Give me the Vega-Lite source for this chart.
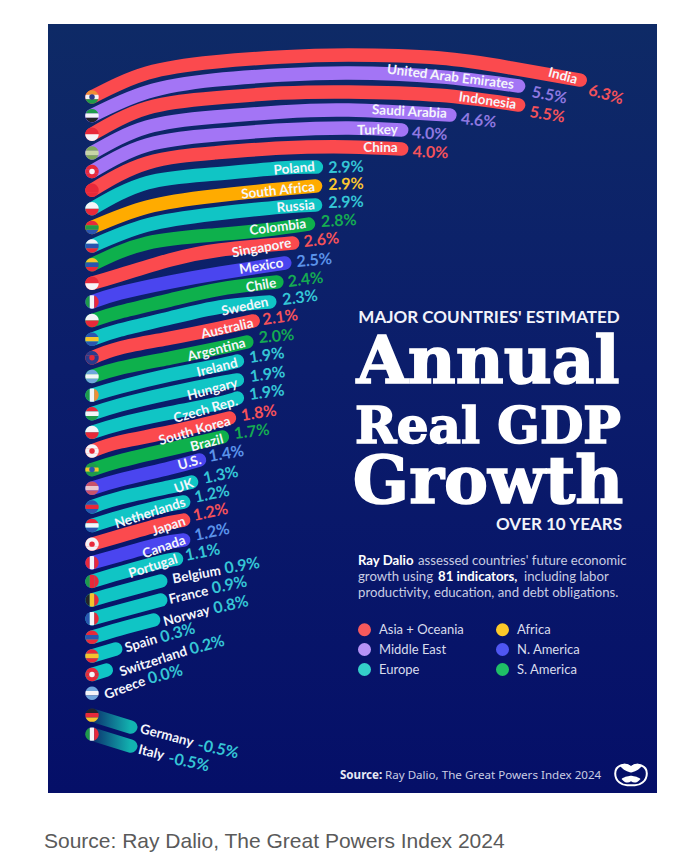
{
"$schema":"https://vega.github.io/schema/vega-lite/v6.json",
"width":677,"height":856,"padding":0,"autosize":{"type":"none"},"background":"#ffffff",
"config":{"view":{"stroke":null}},
"datasets":{
"panel":[{"along":-0.557,"along2":7.152,"row":-3.918,"row2":37.36}],
"curves":[
{"country":"India","region":"Asia + Oceania","along":0,"row":0},{"country":"India","region":"Asia + Oceania","along":0.7,"row":-1.29},{"country":"India","region":"Asia + Oceania","along":1.55,"row":-1.88},{"country":"India","region":"Asia + Oceania","along":2.4,"row":-2.15},{"country":"India","region":"Asia + Oceania","along":3.25,"row":-2.25},{"country":"India","region":"Asia + Oceania","along":4.4,"row":-2.09},{"country":"India","region":"Asia + Oceania","along":5.3,"row":-1.56},{"country":"India","region":"Asia + Oceania","along":6.18,"row":-0.91},
{"country":"United Arab Emirates","region":"Middle East","along":0,"row":1},{"country":"United Arab Emirates","region":"Middle East","along":0.7,"row":-0.27},{"country":"United Arab Emirates","region":"Middle East","along":1.55,"row":-0.91},{"country":"United Arab Emirates","region":"Middle East","along":2.4,"row":-1.18},{"country":"United Arab Emirates","region":"Middle East","along":3.25,"row":-1.29},{"country":"United Arab Emirates","region":"Middle East","along":4.4,"row":-1.09},{"country":"United Arab Emirates","region":"Middle East","along":5.4,"row":-0.59},
{"country":"Indonesia","region":"Asia + Oceania","along":0,"row":2},{"country":"Indonesia","region":"Asia + Oceania","along":0.7,"row":0.59},{"country":"Indonesia","region":"Asia + Oceania","along":1.55,"row":0.05},{"country":"Indonesia","region":"Asia + Oceania","along":2.4,"row":-0.21},{"country":"Indonesia","region":"Asia + Oceania","along":3.25,"row":-0.27},{"country":"Indonesia","region":"Asia + Oceania","along":4.4,"row":-0.09},{"country":"Indonesia","region":"Asia + Oceania","along":5.4,"row":0.43},
{"country":"Saudi Arabia","region":"Middle East","along":0,"row":3},{"country":"Saudi Arabia","region":"Middle East","along":0.7,"row":1.61},{"country":"Saudi Arabia","region":"Middle East","along":1.55,"row":1.07},{"country":"Saudi Arabia","region":"Middle East","along":2.4,"row":0.8},{"country":"Saudi Arabia","region":"Middle East","along":3.25,"row":0.7},{"country":"Saudi Arabia","region":"Middle East","along":4.53,"row":0.97},
{"country":"Turkey","region":"Middle East","along":0,"row":4},{"country":"Turkey","region":"Middle East","along":0.7,"row":2.58},{"country":"Turkey","region":"Middle East","along":1.55,"row":2.04},{"country":"Turkey","region":"Middle East","along":2.4,"row":1.77},{"country":"Turkey","region":"Middle East","along":3.25,"row":1.66},{"country":"Turkey","region":"Middle East","along":3.92,"row":1.77},
{"country":"China","region":"Asia + Oceania","along":0,"row":5},{"country":"China","region":"Asia + Oceania","along":0.7,"row":3.54},{"country":"China","region":"Asia + Oceania","along":1.55,"row":3.0},{"country":"China","region":"Asia + Oceania","along":2.4,"row":2.74},{"country":"China","region":"Asia + Oceania","along":3.25,"row":2.68},{"country":"China","region":"Asia + Oceania","along":3.92,"row":2.79},
{"country":"Poland","region":"Europe","along":0,"row":6},{"country":"Poland","region":"Europe","along":0.7,"row":4.6},{"country":"Poland","region":"Europe","along":1.55,"row":4.13},{"country":"Poland","region":"Europe","along":2.4,"row":3.81},{"country":"Poland","region":"Europe","along":2.84,"row":3.76},
{"country":"South Africa","region":"Africa","along":0,"row":7},{"country":"South Africa","region":"Africa","along":0.7,"row":5.9},{"country":"South Africa","region":"Africa","along":1.55,"row":5.31},{"country":"South Africa","region":"Africa","along":2.4,"row":4.94},{"country":"South Africa","region":"Africa","along":2.83,"row":4.78},
{"country":"Russia","region":"Europe","along":0,"row":8},{"country":"Russia","region":"Europe","along":0.7,"row":6.87},{"country":"Russia","region":"Europe","along":1.55,"row":6.28},{"country":"Russia","region":"Europe","along":2.4,"row":5.9},{"country":"Russia","region":"Europe","along":2.83,"row":5.8},
{"country":"Colombia","region":"S. America","along":0,"row":9},{"country":"Colombia","region":"S. America","along":0.7,"row":7.84},{"country":"Colombia","region":"S. America","along":1.55,"row":7.4},{"country":"Colombia","region":"S. America","along":2.19,"row":7.14},{"country":"Colombia","region":"S. America","along":2.74,"row":6.82},
{"country":"Singapore","region":"Asia + Oceania","along":0,"row":10},{"country":"Singapore","region":"Asia + Oceania","along":0.354,"row":9.55},{"country":"Singapore","region":"Asia + Oceania","along":0.987,"row":8.75},{"country":"Singapore","region":"Asia + Oceania","along":1.62,"row":8.21},{"country":"Singapore","region":"Asia + Oceania","along":2.54,"row":7.84},
{"country":"Mexico","region":"N. America","along":0,"row":11},{"country":"Mexico","region":"N. America","along":0.354,"row":10.52},{"country":"Mexico","region":"N. America","along":0.987,"row":9.93},{"country":"Mexico","region":"N. America","along":1.62,"row":9.45},{"country":"Mexico","region":"N. America","along":2.44,"row":8.91},
{"country":"Chile","region":"S. America","along":0,"row":12},{"country":"Chile","region":"S. America","along":0.354,"row":11.54},{"country":"Chile","region":"S. America","along":0.987,"row":10.9},{"country":"Chile","region":"S. America","along":1.62,"row":10.31},{"country":"Chile","region":"S. America","along":2.34,"row":9.93},
{"country":"Sweden","region":"Europe","along":0,"row":13},{"country":"Sweden","region":"Europe","along":0.354,"row":12.51},{"country":"Sweden","region":"Europe","along":0.987,"row":11.86},{"country":"Sweden","region":"Europe","along":1.62,"row":11.27},{"country":"Sweden","region":"Europe","along":2.25,"row":11.0},
{"country":"Australia","region":"Asia + Oceania","along":0,"row":14},{"country":"Australia","region":"Asia + Oceania","along":0.354,"row":13.47},{"country":"Australia","region":"Asia + Oceania","along":0.987,"row":12.94},{"country":"Australia","region":"Asia + Oceania","along":1.62,"row":12.4},{"country":"Australia","region":"Asia + Oceania","along":2.04,"row":12.02},
{"country":"Argentina","region":"S. America","along":0,"row":15},{"country":"Argentina","region":"S. America","along":0.354,"row":14.55},{"country":"Argentina","region":"S. America","along":0.987,"row":14.01},{"country":"Argentina","region":"S. America","along":1.62,"row":13.47},{"country":"Argentina","region":"S. America","along":1.96,"row":13.15},
{"country":"Ireland","region":"Europe","along":0,"row":16},{"country":"Ireland","region":"Europe","along":0.354,"row":15.57},{"country":"Ireland","region":"Europe","along":0.987,"row":14.92},{"country":"Ireland","region":"Europe","along":1.62,"row":14.39},{"country":"Ireland","region":"Europe","along":1.84,"row":14.17},
{"country":"Hungary","region":"Europe","along":0,"row":17},{"country":"Hungary","region":"Europe","along":0.354,"row":16.53},{"country":"Hungary","region":"Europe","along":0.987,"row":15.89},{"country":"Hungary","region":"Europe","along":1.62,"row":15.35},{"country":"Hungary","region":"Europe","along":1.84,"row":15.19},
{"country":"Czech Rep.","region":"Europe","along":0,"row":18},{"country":"Czech Rep.","region":"Europe","along":0.354,"row":17.55},{"country":"Czech Rep.","region":"Europe","along":0.987,"row":16.96},{"country":"Czech Rep.","region":"Europe","along":1.62,"row":16.43},{"country":"Czech Rep.","region":"Europe","along":1.84,"row":16.16},
{"country":"South Korea","region":"Asia + Oceania","along":0,"row":19},{"country":"South Korea","region":"Asia + Oceania","along":0.354,"row":18.52},{"country":"South Korea","region":"Asia + Oceania","along":0.987,"row":17.98},{"country":"South Korea","region":"Asia + Oceania","along":1.74,"row":17.23},
{"country":"Brazil","region":"S. America","along":0,"row":20},{"country":"Brazil","region":"S. America","along":0.354,"row":19.54},{"country":"Brazil","region":"S. America","along":0.987,"row":18.9},{"country":"Brazil","region":"S. America","along":1.65,"row":18.25},
{"country":"U.S.","region":"N. America","along":0,"row":21},{"country":"U.S.","region":"N. America","along":0.354,"row":20.56},{"country":"U.S.","region":"N. America","along":0.987,"row":19.91},{"country":"U.S.","region":"N. America","along":1.36,"row":19.48},
{"country":"UK","region":"Europe","along":0,"row":22},{"country":"UK","region":"Europe","along":0.354,"row":21.52},{"country":"UK","region":"Europe","along":0.987,"row":20.93},{"country":"UK","region":"Europe","along":1.26,"row":20.67},
{"country":"Netherlands","region":"Europe","along":0,"row":23},{"country":"Netherlands","region":"Europe","along":0.354,"row":22.54},{"country":"Netherlands","region":"Europe","along":0.85,"row":22.0},{"country":"Netherlands","region":"Europe","along":1.16,"row":21.74},
{"country":"Japan","region":"Asia + Oceania","along":0,"row":24},{"country":"Japan","region":"Asia + Oceania","along":0.354,"row":23.56},{"country":"Japan","region":"Asia + Oceania","along":0.85,"row":22.97},{"country":"Japan","region":"Asia + Oceania","along":1.16,"row":22.71},
{"country":"Canada","region":"N. America","along":0,"row":25},{"country":"Canada","region":"N. America","along":0.354,"row":24.58},{"country":"Canada","region":"N. America","along":0.85,"row":24.0},{"country":"Canada","region":"N. America","along":1.16,"row":23.78},
{"country":"Portugal","region":"Europe","along":0,"row":26},{"country":"Portugal","region":"Europe","along":0.354,"row":25.55},{"country":"Portugal","region":"Europe","along":0.85,"row":24.98},{"country":"Portugal","region":"Europe","along":1.07,"row":24.8},
{"country":"Belgium","region":"Europe","along":0,"row":27},{"country":"Belgium","region":"Europe","along":0.354,"row":26.57},{"country":"Belgium","region":"Europe","along":0.87,"row":25.98},
{"country":"France","region":"Europe","along":0,"row":28},{"country":"France","region":"Europe","along":0.354,"row":27.59},{"country":"France","region":"Europe","along":0.87,"row":27.0},
{"country":"Norway","region":"Europe","along":0,"row":29},{"country":"Norway","region":"Europe","along":0.354,"row":28.55},{"country":"Norway","region":"Europe","along":0.78,"row":28.07},
{"country":"Spain","region":"Europe","along":0,"row":30},{"country":"Spain","region":"Europe","along":0.3,"row":29.63},
{"country":"Switzerland","region":"Europe","along":0,"row":31},{"country":"Switzerland","region":"Europe","along":0.18,"row":30.76}
],
"falling":[
{"country":"Germany","along":0,"row":33.18},{"country":"Germany","along":0.49,"row":33.82},
{"country":"Italy","along":0,"row":34.2},{"country":"Italy","along":0.49,"row":34.84}
],
"flags":[
{"country":"India","along":0,"row":0,"stripes":"h","a":"orange","b":"white","c":"green","mark":"navy"},
{"country":"United Arab Emirates","along":0,"row":1,"stripes":"h","a":"green","b":"white","c":"black"},
{"country":"Indonesia","along":0,"row":2,"stripes":"two","a":"red","b":"red","c":"white"},
{"country":"Saudi Arabia","along":0,"row":3,"stripes":"h","a":"olive","b":"pale","c":"olive"},
{"country":"Turkey","along":0,"row":4,"stripes":"h","a":"red","b":"red","c":"red","mark":"white"},
{"country":"China","along":0,"row":5,"stripes":"h","a":"red","b":"red","c":"red"},
{"country":"Poland","along":0,"row":6,"stripes":"two","a":"white","b":"white","c":"red"},
{"country":"South Africa","along":0,"row":7,"stripes":"h","a":"red","b":"green","c":"blue"},
{"country":"Russia","along":0,"row":8,"stripes":"h","a":"white","b":"blue","c":"red"},
{"country":"Colombia","along":0,"row":9,"stripes":"h","a":"yellow","b":"blue","c":"red"},
{"country":"Singapore","along":0,"row":10,"stripes":"two","a":"red","b":"red","c":"white"},
{"country":"Mexico","along":0,"row":11,"stripes":"v","a":"green","b":"white","c":"red"},
{"country":"Chile","along":0,"row":12,"stripes":"two","a":"white","b":"white","c":"red"},
{"country":"Sweden","along":0,"row":13,"stripes":"h","a":"blue","b":"yellow","c":"blue"},
{"country":"Australia","along":0,"row":14,"stripes":"h","a":"navy","b":"navy","c":"navy","mark":"red"},
{"country":"Argentina","along":0,"row":15,"stripes":"h","a":"sky","b":"white","c":"sky"},
{"country":"Ireland","along":0,"row":16,"stripes":"v","a":"green","b":"white","c":"orange"},
{"country":"Hungary","along":0,"row":17,"stripes":"h","a":"red","b":"white","c":"green"},
{"country":"Czech Rep.","along":0,"row":18,"stripes":"two","a":"white","b":"white","c":"red"},
{"country":"South Korea","along":0,"row":19,"stripes":"h","a":"white","b":"white","c":"white","mark":"red"},
{"country":"Brazil","along":0,"row":20,"stripes":"h","a":"green","b":"yellow","c":"green","mark":"blue"},
{"country":"U.S.","along":0,"row":21,"stripes":"h","a":"rose","b":"pink","c":"rose"},
{"country":"UK","along":0,"row":22,"stripes":"h","a":"blue","b":"red","c":"blue"},
{"country":"Netherlands","along":0,"row":23,"stripes":"h","a":"red","b":"white","c":"blue"},
{"country":"Japan","along":0,"row":24,"stripes":"h","a":"white","b":"white","c":"white","mark":"red"},
{"country":"Canada","along":0,"row":25,"stripes":"v","a":"red","b":"white","c":"red"},
{"country":"Portugal","along":0,"row":26,"stripes":"v","a":"green","b":"red","c":"red"},
{"country":"Belgium","along":0,"row":27,"stripes":"v","a":"black","b":"yellow","c":"red"},
{"country":"France","along":0,"row":28,"stripes":"v","a":"blue","b":"white","c":"red"},
{"country":"Norway","along":0,"row":29,"stripes":"h","a":"red","b":"blue","c":"red"},
{"country":"Spain","along":0,"row":30,"stripes":"h","a":"red","b":"yellow","c":"red"},
{"country":"Switzerland","along":0,"row":31,"stripes":"h","a":"red","b":"red","c":"red","mark":"white"},
{"country":"Greece","along":0,"row":32,"stripes":"h","a":"sky","b":"white","c":"sky"},
{"country":"Germany","along":0,"row":33.18,"stripes":"h","a":"black","b":"red","c":"yellow"},
{"country":"Italy","along":0,"row":34.2,"stripes":"v","a":"green","b":"white","c":"red"}
],
"names":[
{"country":"India","along":6.14,"row":-0.91,"tilt":15},
{"country":"United Arab Emirates","along":5.34,"row":-0.64,"tilt":7},
{"country":"Indonesia","along":5.37,"row":0.43,"tilt":8},
{"country":"Saudi Arabia","along":4.49,"row":0.91,"tilt":3},
{"country":"Turkey","along":3.87,"row":1.77,"tilt":-1},
{"country":"China","along":3.87,"row":2.74,"tilt":0},
{"country":"Poland","along":2.82,"row":3.76,"tilt":-5},
{"country":"South Africa","along":2.82,"row":4.83,"tilt":-6},
{"country":"Russia","along":2.82,"row":5.8,"tilt":-5},
{"country":"Colombia","along":2.71,"row":6.82,"tilt":-7},
{"country":"Singapore","along":2.52,"row":7.84,"tilt":-10},
{"country":"Mexico","along":2.42,"row":8.91,"tilt":-9},
{"country":"Chile","along":2.33,"row":9.98,"tilt":-10},
{"country":"Sweden","along":2.23,"row":11.0,"tilt":-12},
{"country":"Australia","along":2.04,"row":12.13,"tilt":-13},
{"country":"Argentina","along":1.94,"row":13.2,"tilt":-14},
{"country":"Ireland","along":1.84,"row":14.28,"tilt":-14},
{"country":"Hungary","along":1.84,"row":15.35,"tilt":-15},
{"country":"Czech Rep.","along":1.84,"row":16.32,"tilt":-16},
{"country":"South Korea","along":1.75,"row":17.39,"tilt":-16},
{"country":"Brazil","along":1.66,"row":18.36,"tilt":-15},
{"country":"U.S.","along":1.38,"row":19.48,"tilt":-15},
{"country":"UK","along":1.28,"row":20.72,"tilt":-20},
{"country":"Netherlands","along":1.18,"row":21.74,"tilt":-18},
{"country":"Japan","along":1.18,"row":22.76,"tilt":-19},
{"country":"Canada","along":1.18,"row":23.78,"tilt":-19},
{"country":"Portugal","along":1.08,"row":24.79,"tilt":-18},
{"country":"Belgium","along":1.63,"row":25.44,"tilt":-10},
{"country":"France","along":1.47,"row":26.52,"tilt":-13},
{"country":"Norway","along":1.49,"row":27.54,"tilt":-15},
{"country":"Spain","along":0.82,"row":29.09,"tilt":-17},
{"country":"Switzerland","along":1.2,"row":29.74,"tilt":-18},
{"country":"Greece","along":0.67,"row":31.35,"tilt":-20},
{"country":"Germany","along":1.28,"row":34.67,"tilt":15},
{"country":"Italy","along":0.91,"row":35.37,"tilt":14}
],
"growth":[
{"country":"India","region":"Asia + Oceania","growth":"6.3%","along":6.29,"row":-0.38,"tilt":16},
{"country":"United Arab Emirates","region":"Middle East","growth":"5.5%","along":5.57,"row":-0.27,"tilt":11},
{"country":"Indonesia","region":"Asia + Oceania","growth":"5.5%","along":5.54,"row":0.81,"tilt":9},
{"country":"Saudi Arabia","region":"Middle East","growth":"4.6%","along":4.67,"row":1.18,"tilt":6},
{"country":"Turkey","region":"Middle East","growth":"4.0%","along":4.05,"row":1.93,"tilt":3},
{"country":"China","region":"Asia + Oceania","growth":"4.0%","along":4.06,"row":2.95,"tilt":2},
{"country":"Poland","region":"Europe","growth":"2.9%","along":2.99,"row":3.81,"tilt":-2},
{"country":"South Africa","region":"Africa","growth":"2.9%","along":2.99,"row":4.72,"tilt":-2},
{"country":"Russia","region":"Europe","growth":"2.9%","along":2.99,"row":5.69,"tilt":-2},
{"country":"Colombia","region":"S. America","growth":"2.8%","along":2.9,"row":6.71,"tilt":-3},
{"country":"Singapore","region":"Asia + Oceania","growth":"2.6%","along":2.68,"row":7.78,"tilt":-6},
{"country":"Mexico","region":"N. America","growth":"2.5%","along":2.59,"row":8.86,"tilt":-5},
{"country":"Chile","region":"S. America","growth":"2.4%","along":2.48,"row":9.93,"tilt":-7},
{"country":"Sweden","region":"Europe","growth":"2.3%","along":2.41,"row":10.9,"tilt":-7},
{"country":"Australia","region":"Asia + Oceania","growth":"2.1%","along":2.16,"row":11.97,"tilt":-8},
{"country":"Argentina","region":"S. America","growth":"2.0%","along":2.11,"row":12.94,"tilt":-5},
{"country":"Ireland","region":"Europe","growth":"1.9%","along":1.99,"row":14.01,"tilt":-8},
{"country":"Hungary","region":"Europe","growth":"1.9%","along":2.0,"row":15.03,"tilt":-8},
{"country":"Czech Rep.","region":"Europe","growth":"1.9%","along":1.99,"row":16.0,"tilt":-8},
{"country":"South Korea","region":"Asia + Oceania","growth":"1.8%","along":1.89,"row":17.12,"tilt":-9},
{"country":"Brazil","region":"S. America","growth":"1.7%","along":1.8,"row":18.09,"tilt":-7},
{"country":"U.S.","region":"N. America","growth":"1.4%","along":1.48,"row":19.32,"tilt":-10},
{"country":"UK","region":"Europe","growth":"1.3%","along":1.41,"row":20.5,"tilt":-12},
{"country":"Netherlands","region":"Europe","growth":"1.2%","along":1.3,"row":21.52,"tilt":-12},
{"country":"Japan","region":"Asia + Oceania","growth":"1.2%","along":1.28,"row":22.49,"tilt":-12},
{"country":"Canada","region":"N. America","growth":"1.2%","along":1.3,"row":23.56,"tilt":-12},
{"country":"Portugal","region":"Europe","growth":"1.1%","along":1.18,"row":24.63,"tilt":-11},
{"country":"Belgium","region":"Europe","growth":"0.9%","along":1.68,"row":25.33,"tilt":-10},
{"country":"France","region":"Europe","growth":"0.9%","along":1.52,"row":26.4,"tilt":-12},
{"country":"Norway","region":"Europe","growth":"0.8%","along":1.54,"row":27.48,"tilt":-13},
{"country":"Spain","region":"Europe","growth":"0.3%","along":0.87,"row":29.03,"tilt":-16},
{"country":"Switzerland","region":"Europe","growth":"0.2%","along":1.24,"row":29.67,"tilt":-15},
{"country":"Greece","region":"Europe","growth":"0.0%","along":0.71,"row":31.25,"tilt":-15},
{"country":"Germany","region":"Europe","growth":"-0.5%","along":1.34,"row":34.78,"tilt":12},
{"country":"Italy","region":"Europe","growth":"-0.5%","along":0.97,"row":35.48,"tilt":12}
],
"notes":[
{"part":"kicker","label":"MAJOR COUNTRIES' ESTIMATED","along":5.025,"row":11.87},
{"part":"years","label":"OVER 10 YEARS","along":6.709,"row":22.95},
{"part":"big","label":"Annual","along":5.013,"row":15.35},
{"part":"mid","label":"Real GDP","along":5.013,"row":18.57},
{"part":"big","label":"Growth","along":5.013,"row":21.79},
{"part":"bodybold","label":"Ray Dalio","along":3.367,"row":24.91},
{"part":"body","label":"assessed countries' future economic","along":4.127,"row":24.91},
{"part":"body","label":"growth using","along":3.367,"row":25.76},
{"part":"bodybold","label":"81 indicators,","along":4.38,"row":25.76},
{"part":"body","label":"including labor","along":5.468,"row":25.76},
{"part":"body","label":"productivity, education, and debt obligations.","along":3.367,"row":26.62},
{"part":"footbold","label":"Source:","along":3.139,"row":36.45},
{"part":"foot","label":"Ray Dalio, The Great Powers Index 2024","along":3.709,"row":36.45},
{"part":"caption","label":"Source: Ray Dalio, The Great Powers Index 2024","along":-0.608,"row":39.99}
],
"logo":[{"along":6.823,"row":36.39}]
},
"encoding":{
"x":{"field":"along","type":"quantitative","axis":null,"scale":{"domain":[-1.1646,7.4051],"nice":false,"zero":false}},
"y":{"field":"row","type":"quantitative","axis":null,"scale":{"domain":[-5.207,40.74],"nice":false,"zero":false,"reverse":true}}
},
"layer":[
{"data":{"name":"panel"},
 "mark":{"type":"rect","color":{"gradient":"linear","x1":0,"y1":0,"x2":0,"y2":1,"stops":[{"offset":0,"color":"#0e2a66"},{"offset":0.45,"color":"#0b1d6b"},{"offset":1,"color":"#050f68"}]}},
 "encoding":{"x2":{"field":"along2"},"y2":{"field":"row2"}}},
{"data":{"name":"curves"},
 "mark":{"type":"line","interpolate":"natural","strokeWidth":13.5,"strokeCap":"round"},
 "encoding":{"detail":{"field":"country"},
  "color":{"field":"region","type":"nominal","legend":null,"scale":{"domain":["Asia + Oceania","Africa","Middle East","N. America","Europe","S. America"],"range":["#fb4a4e","#ffab00","#a375f5","#4a45ef","#10c5c5","#0eb04c"]}}}},
{"data":{"name":"falling"},
 "mark":{"type":"line","strokeWidth":13.5,"strokeCap":"round","stroke":{"gradient":"linear","x1":0,"y1":0,"x2":1,"y2":0,"stops":[{"offset":0,"color":"#0b2f6e"},{"offset":1,"color":"#12b3b0"}]}},
 "encoding":{"detail":{"field":"country"}}},
{"data":{"name":"growth"},
 "mark":{"type":"point","filled":true,"size":0},
 "encoding":{"color":{"field":"region","type":"nominal","scale":{"domain":["Asia + Oceania","Middle East","Europe","Africa","N. America","S. America"],"range":["#f5595c","#b692f6","#34cfc9","#fcc929","#4f56f2","#1fbf66"]},
  "legend":{"orient":"none","legendX":357,"legendY":622,"columns":2,"title":null,"symbolType":"circle","symbolSize":170,"symbolOpacity":1,"labelFont":"Lato","labelFontSize":13,"labelColor":"#d9dcec","labelOffset":7,"rowPadding":5,"columnPadding":31}}}},
{"data":{"name":"flags"},
 "mark":{"type":"point","filled":true,"size":180,"opacity":1},
 "encoding":{"shape":{"field":"stripes","type":"nominal","legend":null,"scale":{"domain":["h","v","two"],"range":["M-.943,-.333 A1,1 0 0 1 .943,-.333 Z","M-.333,.943 A1,1 0 0 1 -.333,-.943 Z","M-1,0 A1,1 0 0 1 1,0 Z"]}},
  "color":{"field":"a","type":"nominal","legend":null,"scale":{"domain":["red","white","green","blue","navy","sky","orange","yellow","black","olive","pale","rose","pink"],"range":["#e8293a","#f4f4f8","#1f9a4b","#2a55b0","#2a3a8a","#6fa5dc","#ef8f35","#f6c42d","#23232b","#7fa85a","#c8d6a8","#c9536a","#e8c8d0"]}}}},
{"data":{"name":"flags"},
 "mark":{"type":"point","filled":true,"size":180,"opacity":1},
 "encoding":{"shape":{"field":"stripes","type":"nominal","legend":null,"scale":{"domain":["h","v","two"],"range":["M-.943,-.333 A1,1 0 0 0 -.943,.333 L.943,.333 A1,1 0 0 0 .943,-.333 Z","M-.333,-.943 L-.333,.943 A1,1 0 0 0 .333,.943 L.333,-.943 A1,1 0 0 0 -.333,-.943 Z","M-.9,-.01 L.9,-.01 L.9,.01 L-.9,.01 Z"]}},
  "color":{"field":"b","type":"nominal","legend":null,"scale":{"domain":["red","white","green","blue","navy","sky","orange","yellow","black","olive","pale","rose","pink"],"range":["#e8293a","#f4f4f8","#1f9a4b","#2a55b0","#2a3a8a","#6fa5dc","#ef8f35","#f6c42d","#23232b","#7fa85a","#c8d6a8","#c9536a","#e8c8d0"]}}}},
{"data":{"name":"flags"},
 "mark":{"type":"point","filled":true,"size":180,"opacity":1},
 "encoding":{"shape":{"field":"stripes","type":"nominal","legend":null,"scale":{"domain":["h","v","two"],"range":["M-.943,.333 A1,1 0 0 0 .943,.333 Z","M.333,-.943 A1,1 0 0 1 .333,.943 Z","M-1,0 A1,1 0 0 0 1,0 Z"]}},
  "color":{"field":"c","type":"nominal","legend":null,"scale":{"domain":["red","white","green","blue","navy","sky","orange","yellow","black","olive","pale","rose","pink"],"range":["#e8293a","#f4f4f8","#1f9a4b","#2a55b0","#2a3a8a","#6fa5dc","#ef8f35","#f6c42d","#23232b","#7fa85a","#c8d6a8","#c9536a","#e8c8d0"]}}}},
{"data":{"name":"flags"},
 "transform":[{"filter":"isValid(datum.mark)"}],
 "mark":{"type":"point","filled":true,"size":30,"shape":"circle","opacity":1},
 "encoding":{"color":{"field":"mark","type":"nominal","legend":null,"scale":{"domain":["red","white","blue","navy"],"range":["#e8293a","#f4f4f8","#2a55b0","#2a3a8a"]}}}},
{"data":{"name":"names"},
 "mark":{"type":"text","font":"Lato","fontWeight":700,"fontSize":13.5,"align":"right","baseline":"middle","color":"#f4f5fb"},
 "encoding":{"text":{"field":"country"},"angle":{"field":"tilt","type":"quantitative","scale":null}}},
{"data":{"name":"growth"},
 "mark":{"type":"text","font":"Lato","fontWeight":700,"fontSize":16,"align":"left","baseline":"middle"},
 "encoding":{"text":{"field":"growth"},"angle":{"field":"tilt","type":"quantitative","scale":null},
  "color":{"field":"region","type":"nominal","legend":null,"scale":{"domain":["Asia + Oceania","Africa","Middle East","N. America","Europe","S. America"],"range":["#f4525a","#fcc62f","#8f78e0","#5b93ea","#35c6d6","#15ab52"]}}}},
{"data":{"name":"notes"},"transform":[{"filter":"datum.part=='kicker'"}],
 "mark":{"type":"text","font":"Lato","fontWeight":700,"fontSize":17,"align":"center","baseline":"middle","color":"#f2f3fa"},"encoding":{"text":{"field":"label"}}},
{"data":{"name":"notes"},"transform":[{"filter":"datum.part=='years'"}],
 "mark":{"type":"text","font":"Lato","fontWeight":700,"fontSize":17,"align":"right","baseline":"middle","color":"#f2f3fa"},"encoding":{"text":{"field":"label"}}},
{"data":{"name":"notes"},"transform":[{"filter":"datum.part=='big'"}],
 "mark":{"type":"text","font":"DejaVu Serif","fontWeight":700,"fontSize":66,"align":"center","baseline":"alphabetic","color":"#ffffff","stroke":"#ffffff","strokeWidth":1.6},"encoding":{"text":{"field":"label"}}},
{"data":{"name":"notes"},"transform":[{"filter":"datum.part=='mid'"}],
 "mark":{"type":"text","font":"DejaVu Serif","fontWeight":700,"fontSize":50,"align":"center","baseline":"alphabetic","color":"#ffffff","stroke":"#ffffff","strokeWidth":1.6},"encoding":{"text":{"field":"label"}}},
{"data":{"name":"notes"},"transform":[{"filter":"datum.part=='body'"}],
 "mark":{"type":"text","font":"Lato","fontSize":13.2,"align":"left","baseline":"middle","color":"#c9cde3"},"encoding":{"text":{"field":"label"}}},
{"data":{"name":"notes"},"transform":[{"filter":"datum.part=='bodybold'"}],
 "mark":{"type":"text","font":"Lato","fontWeight":700,"fontSize":13.2,"align":"left","baseline":"middle","color":"#ffffff"},"encoding":{"text":{"field":"label"}}},
{"data":{"name":"notes"},"transform":[{"filter":"datum.part=='foot'"}],
 "mark":{"type":"text","font":"Noto Sans","fontSize":11.6,"align":"left","baseline":"middle","color":"#c9cde3"},"encoding":{"text":{"field":"label"}}},
{"data":{"name":"notes"},"transform":[{"filter":"datum.part=='footbold'"}],
 "mark":{"type":"text","font":"Noto Sans","fontWeight":700,"fontSize":11.6,"align":"left","baseline":"middle","color":"#e6e8f4"},"encoding":{"text":{"field":"label"}}},
{"data":{"name":"notes"},"transform":[{"filter":"datum.part=='caption'"}],
 "mark":{"type":"text","font":"Liberation Sans","fontSize":21,"align":"left","baseline":"middle","color":"#5a5a5a"},"encoding":{"text":{"field":"label"}}},
{"data":{"name":"logo"},
 "mark":{"type":"point","filled":false,"size":1000,"stroke":"#ffffff","strokeWidth":2,"opacity":1,"shape":"M-1,-.1 C-1,-.6 -.4,-.8 0,-.5 C.4,-.8 1,-.6 1,-.1 C1,.4 .55,.7 .15,.65 L-.15,.65 C-.55,.7 -1,.4 -1,-.1 Z"}},
{"data":{"name":"logo"},
 "mark":{"type":"point","filled":true,"size":1000,"fill":"#ffffff","opacity":1,"shape":"M-.7,-.6 C-.4,-.8 -.1,-.7 0,-.5 C.1,-.7 .4,-.8 .7,-.6 C.5,-.3 .2,-.2 0,-.15 C-.2,-.2 -.5,-.3 -.7,-.6 Z M-.6,.25 C-.4,.1 -.1,.05 0,.05 C.1,.05 .4,.1 .6,.25 C.4,.5 .2,.55 0,.4 C-.2,.55 -.4,.5 -.6,.25 Z"}}
],
"resolve":{"scale":{"color":"independent","shape":"independent"}}
}
